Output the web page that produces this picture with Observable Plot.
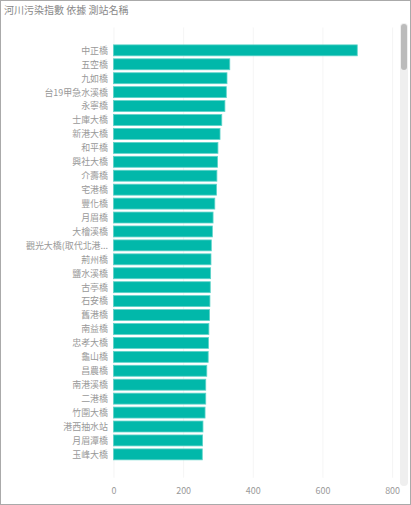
<!DOCTYPE html>
<html><head><meta charset="utf-8">
<script src="https://cdn.jsdelivr.net/npm/d3@7"></script>
<script src="https://cdn.jsdelivr.net/npm/@observablehq/plot@0.6"></script>
<style>
body{margin:0;background:#fff;font-family:"Noto Sans CJK TC",sans-serif;}
#wrap{position:relative;width:409px;height:503px;border:1px solid #aaa;overflow:hidden;}
#title{position:absolute;left:3px;top:1px;font-size:10px;color:#888;}
#chart{position:absolute;left:0;top:18px;}
#chart svg{display:block;}
#sb{position:absolute;left:399px;top:22px;width:8px;height:463px;background:#efefef;border-radius:4px;}
#thumb{position:absolute;left:400px;top:23px;width:6px;height:46px;background:#bbb;border-radius:3px;}
</style></head><body>
<div id="wrap"><div id="title">河川污染指數 依據 測站名稱</div><div id="chart"></div><div id="sb"></div><div id="thumb"></div></div>
<script>
const stations = ["中正橋","五空橋","九如橋","台19甲急水溪橋","永寧橋","士庫大橋","新港大橋","和平橋","興社大橋","介壽橋","宅港橋","豐化橋","月眉橋","大檜溪橋","觀光大橋(取代北港大橋)","荊州橋","鹽水溪橋","古亭橋","石安橋","舊港橋","南益橋","忠孝大橋","龜山橋","昌農橋","南港溪橋","二港橋","竹圍大橋","港西抽水站","月眉潭橋","玉峰大橋"];
const values = [700,334,326,324,320,311,306,300,299,297,296,291,286,284,281,280,279,278,277,276,274,273,272,268,265,265,263,257,256,255];
const ticks = [0,200,400,600,800];
const data = stations.map((s,i)=>({station:s,value:values[i]}));
const trunc = s => s.length > 10 ? s.slice(0,9) + "..." : s;
const chart = Plot.plot({
  width: 411, height: 487,
  marginLeft: 113, marginRight: 18, marginTop: 8.5, marginBottom: 26,
  style: {fontFamily: "Noto Sans CJK TC, sans-serif", fontSize: "9px", color: "#999"},
  x: {domain: [0,800], ticks: ticks, label: null, tickSize: 0, tickPadding: 9, grid: true},
  y: {domain: stations, label: null, padding: 0.22, tickSize: 0, tickPadding: 6, tickFormat: trunc},
  marks: [
    Plot.barX(data, {x: "value", y: "station", fill: "#01B8AA", stroke: "#5fd3c9", strokeWidth: 0.8})
  ]
});
document.getElementById("chart").append(chart);
</script></body></html>
